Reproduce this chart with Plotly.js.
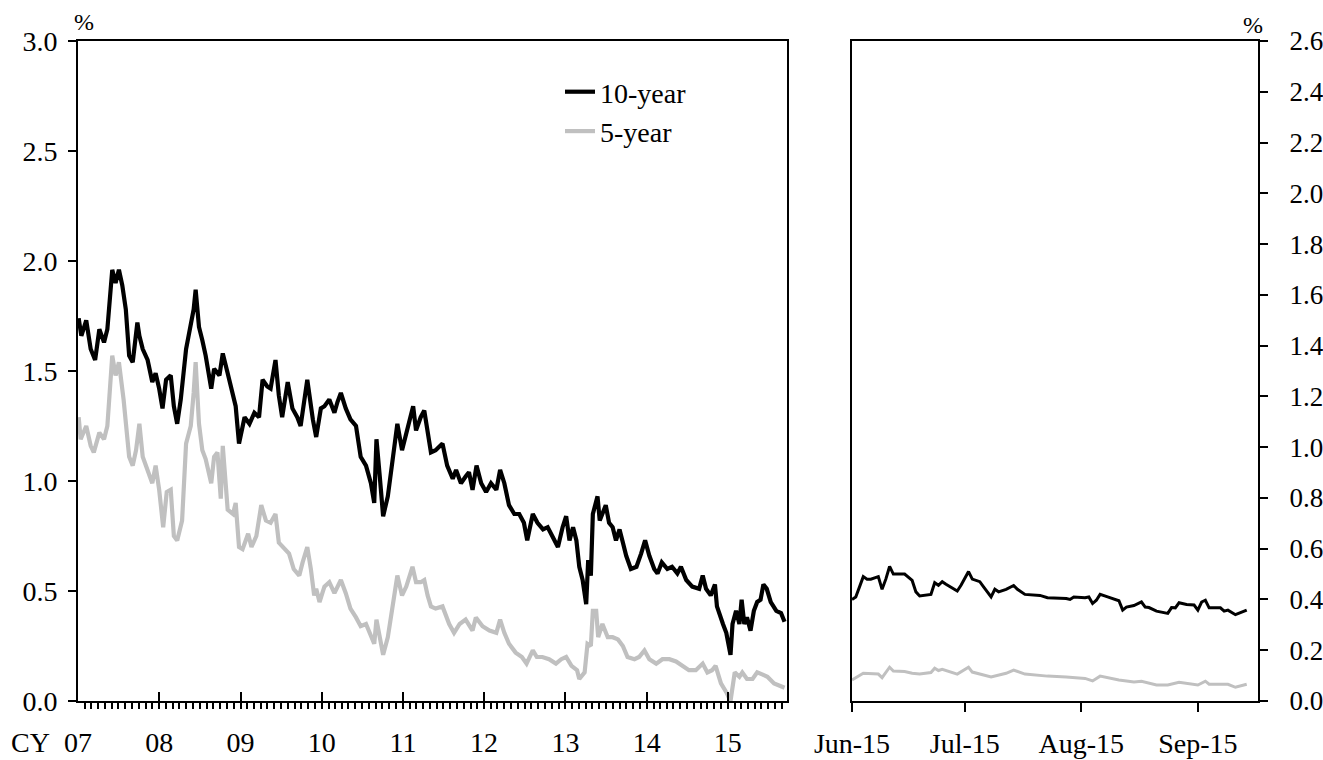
<!DOCTYPE html>
<html>
<head>
<meta charset="utf-8">
<script src="https://cdn.plot.ly/plotly-3.0.1.min.js"></script>
<style>html,body{margin:0;padding:0;background:#fff;}#chart{width:1323px;height:760px;}</style>
</head>
<body>
<div id="chart"></div>
<script>
// ---- Long-run panel (CY 2007 - Sep 2015) ----
const seriesNames = ['10-year', '5-year'];
const yearTickDates = ['2007-01-01','2008-01-01','2009-01-01','2010-01-01','2011-01-01','2012-01-01','2013-01-01','2014-01-01','2015-01-01'];
const yearTickLabels = ['07','08','09','10','11','12','13','14','15'];

const datesLong10 = ['2007-01-04','2007-01-16','2007-02-07','2007-02-27','2007-03-19','2007-04-07','2007-04-28','2007-05-13','2007-06-04','2007-06-19','2007-07-04','2007-07-19','2007-08-04','2007-08-19','2007-09-04','2007-09-25','2007-10-04','2007-10-19','2007-11-10','2007-12-01','2007-12-16',
'2008-01-01','2008-01-16','2008-02-01','2008-02-22','2008-03-07','2008-03-22','2008-04-07','2008-05-01','2008-05-22','2008-06-04','2008-06-13','2008-06-28','2008-07-13','2008-07-28','2008-08-22','2008-09-04','2008-09-28','2008-10-13','2008-11-04','2008-11-28','2008-12-10','2008-12-25',
'2009-01-19','2009-02-10','2009-03-04','2009-03-25','2009-04-10','2009-05-01','2009-05-16','2009-06-07','2009-06-22','2009-07-07','2009-08-01','2009-08-22','2009-09-13','2009-09-28','2009-10-28','2009-11-22','2009-12-07','2009-12-28',
'2010-01-13','2010-02-04','2010-02-27','2010-03-13','2010-03-28','2010-04-19','2010-05-10','2010-06-04','2010-06-25','2010-07-19','2010-08-10','2010-08-25','2010-09-04','2010-09-19','2010-10-04','2010-10-25','2010-11-16','2010-12-07','2010-12-28',
'2011-01-16','2011-02-16','2011-03-01','2011-03-22','2011-04-07','2011-04-22','2011-05-07','2011-05-28','2011-06-28','2011-07-19','2011-08-13','2011-08-28','2011-09-19','2011-10-10','2011-10-25','2011-11-10','2011-11-28','2011-12-19',
'2012-01-10','2012-02-01','2012-02-25','2012-03-13','2012-04-01','2012-04-22','2012-05-16','2012-06-07','2012-06-28','2012-07-13','2012-08-07','2012-08-28','2012-09-22','2012-10-13','2012-11-04','2012-11-28','2012-12-19',
'2013-01-04','2013-01-19','2013-02-04','2013-02-19','2013-03-04','2013-03-19','2013-04-04','2013-04-13','2013-04-25','2013-05-04','2013-05-13','2013-05-25','2013-06-04','2013-06-16','2013-07-01','2013-07-16','2013-08-01','2013-08-16','2013-09-01','2013-09-16','2013-10-01','2013-10-22','2013-11-16','2013-12-07','2013-12-25',
'2014-01-13','2014-02-04','2014-02-19','2014-03-10','2014-04-04','2014-04-25','2014-05-19','2014-06-04','2014-06-28','2014-07-25','2014-08-25','2014-09-10','2014-09-25','2014-10-16','2014-11-04','2014-11-13','2014-12-10','2014-12-25',
'2015-01-13','2015-01-22','2015-02-07','2015-02-22','2015-03-04','2015-03-16','2015-03-28','2015-04-13','2015-04-28','2015-05-13','2015-05-28','2015-06-10','2015-06-25','2015-07-13','2015-08-07','2015-08-28','2015-09-13'];
const yieldLong10 = [1.74,1.66,1.73,1.60,1.55,1.69,1.63,1.69,1.96,1.90,1.96,1.89,1.78,1.57,1.54,1.72,1.66,1.60,1.55,1.45,1.49,
1.42,1.33,1.46,1.48,1.34,1.26,1.37,1.60,1.70,1.78,1.87,1.70,1.64,1.57,1.42,1.51,1.48,1.58,1.49,1.40,1.34,1.17,
1.29,1.26,1.31,1.29,1.46,1.43,1.42,1.55,1.39,1.29,1.45,1.33,1.29,1.25,1.46,1.28,1.20,1.33,
1.34,1.37,1.31,1.36,1.40,1.33,1.28,1.25,1.11,1.07,0.99,0.90,1.19,1.02,0.84,0.93,1.11,1.26,1.14,
1.22,1.34,1.23,1.29,1.32,1.22,1.13,1.14,1.17,1.07,1.01,1.05,0.99,1.02,1.04,0.96,1.07,0.99,
0.95,0.99,0.96,1.05,0.99,0.89,0.85,0.85,0.81,0.73,0.85,0.81,0.78,0.79,0.75,0.70,0.79,
0.84,0.73,0.79,0.73,0.61,0.55,0.44,0.64,0.57,0.85,0.89,0.93,0.82,0.85,0.89,0.81,0.79,0.73,0.78,0.72,0.66,0.60,0.61,0.67,0.73,
0.66,0.60,0.58,0.63,0.60,0.61,0.58,0.61,0.55,0.52,0.51,0.57,0.51,0.48,0.53,0.43,0.35,0.31,
0.21,0.35,0.41,0.35,0.46,0.35,0.38,0.32,0.41,0.45,0.46,0.53,0.51,0.45,0.41,0.40,0.36];

const datesLong5 = ['2007-01-04','2007-01-13','2007-02-07','2007-02-27','2007-03-13','2007-04-07','2007-04-28','2007-05-13','2007-06-04','2007-06-19','2007-07-04','2007-07-25','2007-08-19','2007-09-04','2007-09-19','2007-10-04','2007-10-19','2007-11-10','2007-12-01','2007-12-16',
'2008-01-01','2008-01-19','2008-02-04','2008-02-22','2008-03-07','2008-03-22','2008-04-13','2008-05-01','2008-05-22','2008-06-04','2008-06-13','2008-06-28','2008-07-13','2008-07-28','2008-08-22','2008-09-04','2008-09-19','2008-10-04','2008-10-13','2008-11-04','2008-11-28','2008-12-10','2008-12-25',
'2009-01-10','2009-02-04','2009-02-19','2009-03-13','2009-04-04','2009-04-25','2009-05-16','2009-06-07','2009-06-22','2009-07-16','2009-08-07','2009-08-28','2009-09-22','2009-10-07','2009-10-28','2009-11-13','2009-11-28','2009-12-07','2009-12-22',
'2010-01-13','2010-02-04','2010-02-27','2010-03-28','2010-04-19','2010-05-10','2010-06-04','2010-06-25','2010-07-19','2010-08-10','2010-08-25','2010-09-04','2010-09-19','2010-10-04','2010-10-25','2010-11-16','2010-12-07','2010-12-28',
'2011-01-16','2011-02-13','2011-03-01','2011-03-22','2011-04-07','2011-04-22','2011-05-07','2011-05-28','2011-06-28','2011-07-28','2011-08-19','2011-09-13','2011-10-10','2011-11-10','2011-11-25','2011-12-25',
'2012-01-25','2012-02-25','2012-03-13','2012-04-01','2012-04-22','2012-05-22','2012-06-19','2012-07-10','2012-08-07','2012-08-25','2012-09-19','2012-10-19','2012-11-19','2012-12-13',
'2013-01-04','2013-01-28','2013-02-22','2013-03-04','2013-03-28','2013-04-10','2013-04-25','2013-05-04','2013-05-19','2013-05-28','2013-06-16','2013-07-10','2013-08-01','2013-08-25','2013-09-16','2013-10-07','2013-11-07','2013-11-28','2013-12-22',
'2014-01-13','2014-02-13','2014-03-13','2014-04-13','2014-05-13','2014-06-13','2014-07-10','2014-08-10','2014-09-10','2014-10-01','2014-10-22','2014-11-07','2014-12-01','2014-12-25',
'2015-01-13','2015-02-01','2015-02-22','2015-03-07','2015-03-28','2015-04-22','2015-05-13','2015-06-07','2015-06-28','2015-07-28','2015-08-28','2015-09-13'];
const yieldLong5 = [1.29,1.19,1.25,1.16,1.13,1.22,1.19,1.25,1.57,1.48,1.54,1.37,1.11,1.07,1.14,1.26,1.11,1.05,0.99,1.07,
0.96,0.79,0.95,0.96,0.75,0.73,0.82,1.17,1.25,1.40,1.54,1.26,1.14,1.10,0.99,1.11,1.13,0.92,1.16,0.87,0.85,0.90,0.70,
0.69,0.76,0.70,0.75,0.89,0.82,0.81,0.85,0.72,0.69,0.67,0.60,0.57,0.63,0.70,0.60,0.48,0.51,0.45,
0.52,0.54,0.49,0.55,0.49,0.42,0.38,0.34,0.35,0.29,0.26,0.37,0.28,0.21,0.29,0.42,0.57,0.48,
0.52,0.61,0.54,0.54,0.55,0.48,0.43,0.42,0.43,0.35,0.31,0.35,0.37,0.32,0.38,0.34,
0.32,0.31,0.37,0.31,0.26,0.22,0.20,0.17,0.23,0.20,0.20,0.19,0.17,0.19,
0.20,0.16,0.14,0.10,0.13,0.26,0.25,0.41,0.41,0.29,0.35,0.29,0.29,0.28,0.25,0.20,0.19,0.20,0.23,
0.19,0.17,0.19,0.19,0.18,0.16,0.14,0.14,0.17,0.13,0.14,0.16,0.08,0.04,
0.00,0.13,0.11,0.13,0.10,0.10,0.13,0.12,0.11,0.08,0.07,0.06];

// ---- Recent panel (Jun - Sep 2015) ----
const monthTickDates = ['2015-06-01','2015-07-01','2015-08-01','2015-09-01'];
const monthTickLabels = ['Jun-15','Jul-15','Aug-15','Sep-15'];

const datesRecent10 = ['2015-06-01','2015-06-02','2015-06-04','2015-06-05','2015-06-06','2015-06-08','2015-06-09','2015-06-10','2015-06-11','2015-06-12','2015-06-15','2015-06-17','2015-06-18','2015-06-19','2015-06-22','2015-06-23','2015-06-24','2015-06-25','2015-06-26','2015-06-29','2015-06-30',
'2015-07-02','2015-07-03','2015-07-05','2015-07-06','2015-07-08','2015-07-09','2015-07-10','2015-07-12','2015-07-14','2015-07-15','2015-07-17','2015-07-21','2015-07-23','2015-07-28','2015-07-29','2015-07-30',
'2015-08-02','2015-08-03','2015-08-04','2015-08-05','2015-08-06','2015-08-08','2015-08-11','2015-08-12','2015-08-13','2015-08-15','2015-08-17','2015-08-18','2015-08-19','2015-08-21','2015-08-24','2015-08-25','2015-08-26','2015-08-27','2015-08-29','2015-08-31',
'2015-09-01','2015-09-02','2015-09-03','2015-09-04','2015-09-07','2015-09-08','2015-09-09','2015-09-11','2015-09-14'];
const yieldRecent10 = [0.40,0.41,0.49,0.48,0.48,0.49,0.44,0.48,0.53,0.50,0.50,0.475,0.43,0.414,0.42,0.466,0.456,0.47,0.46,0.433,0.456,
0.51,0.48,0.47,0.45,0.41,0.44,0.43,0.44,0.455,0.44,0.42,0.416,0.407,0.404,0.40,0.41,
0.407,0.41,0.384,0.397,0.42,0.41,0.395,0.358,0.37,0.376,0.39,0.37,0.368,0.354,0.345,0.368,0.367,0.387,0.38,0.378,
0.358,0.39,0.397,0.367,0.367,0.354,0.358,0.34,0.358];

const datesRecent5 = ['2015-06-01','2015-06-04','2015-06-08','2015-06-09','2015-06-11','2015-06-12','2015-06-15','2015-06-17','2015-06-19','2015-06-22','2015-06-23','2015-06-24','2015-06-25','2015-06-29',
'2015-07-02','2015-07-03','2015-07-08','2015-07-12','2015-07-14','2015-07-17','2015-07-23','2015-07-28',
'2015-08-02','2015-08-04','2015-08-06','2015-08-11','2015-08-15','2015-08-17','2015-08-21','2015-08-24','2015-08-27',
'2015-09-01','2015-09-03','2015-09-04','2015-09-09','2015-09-11','2015-09-14'];
const yieldRecent5 = [0.083,0.109,0.106,0.092,0.133,0.118,0.116,0.109,0.106,0.112,0.129,0.12,0.125,0.106,
0.133,0.114,0.095,0.109,0.122,0.106,0.098,0.095,
0.089,0.079,0.098,0.083,0.075,0.078,0.063,0.063,0.074,
0.063,0.078,0.066,0.066,0.054,0.066];

const BLACK = '#000000', GREY = '#c0c0c0';
const FONT = 'Liberation Serif, Times New Roman, serif';

const traces = [
  {x: datesLong10, y: yieldLong10, name: seriesNames[0], type: 'scatter', mode: 'lines',
   line: {color: BLACK, width: 4.2}, xaxis: 'x', yaxis: 'y', showlegend: true},
  {x: datesLong5, y: yieldLong5, name: seriesNames[1], type: 'scatter', mode: 'lines',
   line: {color: GREY, width: 4.2}, xaxis: 'x', yaxis: 'y', showlegend: true},
  {x: datesRecent10, y: yieldRecent10, name: seriesNames[0], type: 'scatter', mode: 'lines',
   line: {color: BLACK, width: 3}, xaxis: 'x2', yaxis: 'y2', showlegend: false},
  {x: datesRecent5, y: yieldRecent5, name: seriesNames[1], type: 'scatter', mode: 'lines',
   line: {color: GREY, width: 3}, xaxis: 'x2', yaxis: 'y2', showlegend: false}
];

const W = 1323, H = 760;
const layout = {
  width: W, height: H,
  margin: {l: 0, r: 0, t: 0, b: 0},
  paper_bgcolor: '#fff', plot_bgcolor: '#fff',
  font: {family: FONT, size: 28, color: '#000'},
  showlegend: true,
  legend: {x: 560 / W, y: 1 - 67 / H, xanchor: 'left', yanchor: 'top',
           bgcolor: 'rgba(0,0,0,0)', font: {family: FONT, size: 28, color: '#000'},
           tracegroupgap: 0, itemwidth: 30},
  xaxis: {
    domain: [78 / W, 787 / W], anchor: 'y', type: 'date',
    range: ['2007-01-01', '2015-09-24'],
    tickmode: 'array', tickvals: yearTickDates, ticktext: yearTickLabels,
    ticks: 'inside', ticklen: 9, tickwidth: 2, tickcolor: BLACK,
    minor: {dtick: 'M1', tick0: '2007-01-01', ticks: 'outside', ticklen: 6, tickwidth: 2, tickcolor: BLACK, showgrid: false},
    showline: true, linewidth: 2, linecolor: BLACK, mirror: true,
    showgrid: false, zeroline: false, ticklabelstandoff: 15,
    tickfont: {family: FONT, size: 28, color: BLACK}, fixedrange: true
  },
  yaxis: {
    domain: [59 / H, 1 - 41 / H], anchor: 'x',
    range: [0, 3.0], dtick: 0.5, tick0: 0, tickformat: '.1f',
    ticks: 'outside', ticklen: 8, tickwidth: 2, tickcolor: BLACK,
    showline: true, linewidth: 2, linecolor: BLACK, mirror: true,
    showgrid: false, zeroline: false, ticklabelstandoff: 5,
    tickfont: {family: FONT, size: 28, color: BLACK}, fixedrange: true
  },
  xaxis2: {
    domain: [852 / W, 1258 / W], anchor: 'y2', type: 'date',
    range: ['2015-06-01', '2015-09-17'],
    tickmode: 'array', tickvals: monthTickDates, ticktext: monthTickLabels,
    ticks: 'outside', ticklen: 9, tickwidth: 2, tickcolor: BLACK,
    showline: true, linewidth: 2, linecolor: BLACK, mirror: true,
    showgrid: false, zeroline: false, ticklabelstandoff: 7,
    tickfont: {family: FONT, size: 28, color: BLACK}, fixedrange: true
  },
  yaxis2: {
    domain: [59 / H, 1 - 41 / H], anchor: 'x2', side: 'right',
    range: [0, 2.6], dtick: 0.2, tick0: 0, tickformat: '.1f',
    ticks: 'outside', ticklen: 8, tickwidth: 2, tickcolor: BLACK,
    showline: true, linewidth: 2, linecolor: BLACK, mirror: true,
    showgrid: false, zeroline: false, ticklabelstandoff: 16,
    tickfont: {family: FONT, size: 27, color: BLACK}, fixedrange: true
  },
  annotations: [
    {text: '%', xref: 'paper', yref: 'paper', x: 84 / W, y: 1 - 22 / H, showarrow: false,
     xanchor: 'center', yanchor: 'middle', font: {family: FONT, size: 24, color: BLACK}},
    {text: '%', xref: 'paper', yref: 'paper', x: 1253 / W, y: 1 - 25 / H, showarrow: false,
     xanchor: 'center', yanchor: 'middle', font: {family: FONT, size: 24, color: BLACK}},
    {text: 'CY', xref: 'paper', yref: 'paper', x: 30 / W, y: 1 - 742 / H, showarrow: false,
     xanchor: 'center', yanchor: 'middle', font: {family: FONT, size: 28, color: BLACK}}
  ]
};

Plotly.newPlot('chart', traces, layout, {displayModeBar: false, staticPlot: true});
</script>
</body>
</html>
